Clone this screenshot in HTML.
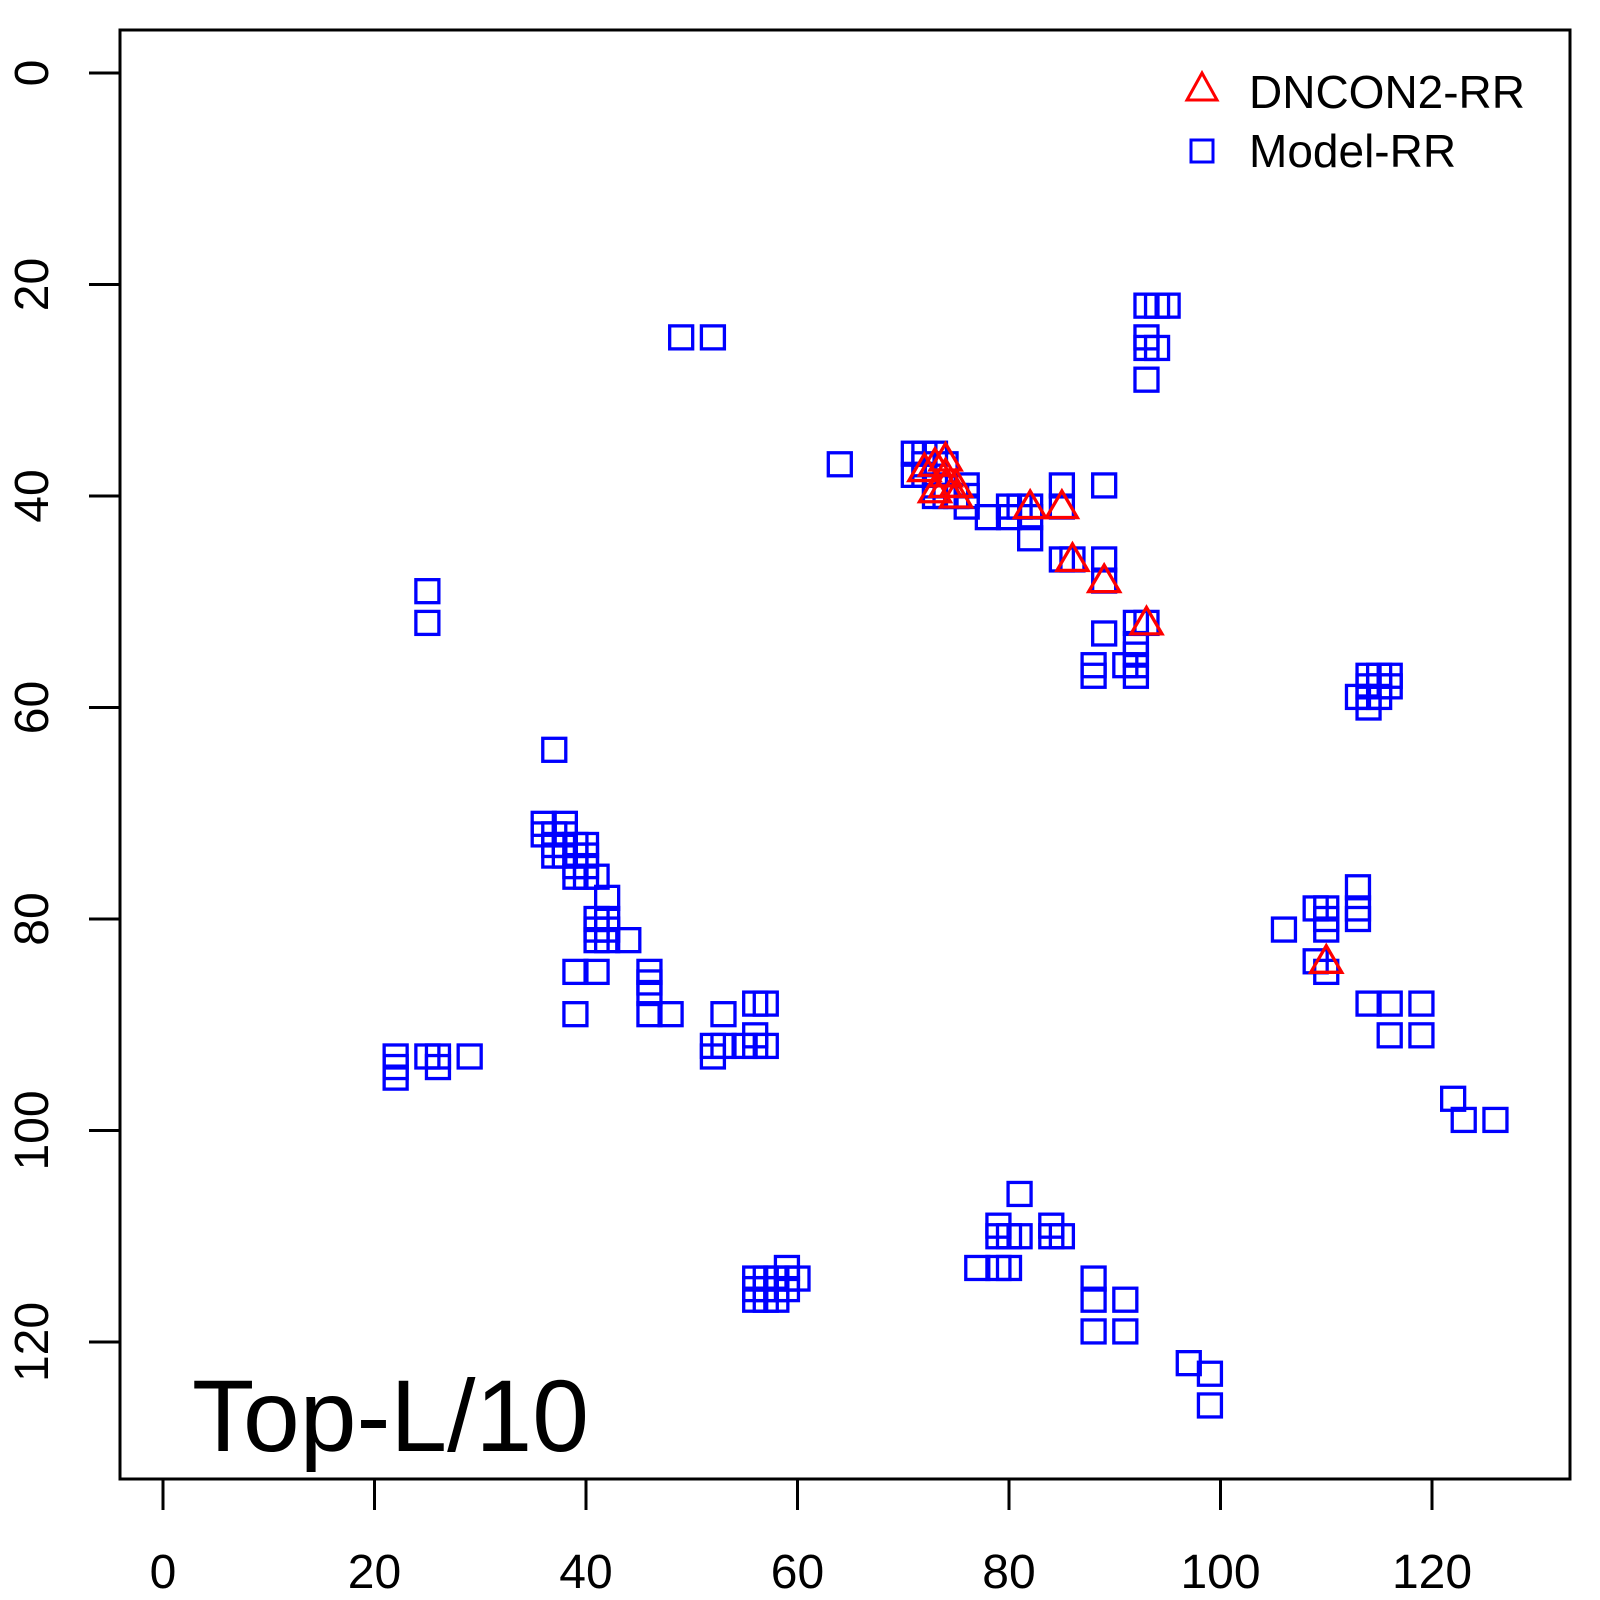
<!DOCTYPE html>
<html><head><style>body{margin:0;background:#fff}svg{display:block}text{font-family:"Liberation Sans",sans-serif}</style></head>
<body>
<svg id="s" width="1600" height="1600" viewBox="0 0 1600 1600" xmlns="http://www.w3.org/2000/svg">
<rect x="120" y="30" width="1450" height="1449" fill="none" stroke="#000" stroke-width="3"/>
<g stroke="#000" stroke-width="3">
<line x1="163" y1="1479" x2="1432" y2="1479"/>
<line x1="163" y1="1479" x2="163" y2="1510"/><line x1="374.5" y1="1479" x2="374.5" y2="1510"/><line x1="586" y1="1479" x2="586" y2="1510"/><line x1="797.5" y1="1479" x2="797.5" y2="1510"/><line x1="1009" y1="1479" x2="1009" y2="1510"/><line x1="1220.5" y1="1479" x2="1220.5" y2="1510"/><line x1="1432" y1="1479" x2="1432" y2="1510"/>
<line x1="120" y1="73" x2="120" y2="1342"/>
<line x1="89" y1="73" x2="120" y2="73"/><line x1="89" y1="284.5" x2="120" y2="284.5"/><line x1="89" y1="496" x2="120" y2="496"/><line x1="89" y1="707.5" x2="120" y2="707.5"/><line x1="89" y1="919" x2="120" y2="919"/><line x1="89" y1="1130.5" x2="120" y2="1130.5"/><line x1="89" y1="1342" x2="120" y2="1342"/>
</g>
<g font-size="48" text-anchor="middle" fill="#000">
<text x="163" y="1588">0</text><text x="374.5" y="1588">20</text><text x="586" y="1588">40</text><text x="797.5" y="1588">60</text><text x="1009" y="1588">80</text><text x="1220.5" y="1588">100</text><text x="1432" y="1588">120</text>
<text transform="translate(48,73) rotate(-90)">0</text>
<text transform="translate(48,284.5) rotate(-90)">20</text>
<text transform="translate(48,496) rotate(-90)">40</text>
<text transform="translate(48,707.5) rotate(-90)">60</text>
<text transform="translate(48,919) rotate(-90)">80</text>
<text transform="translate(48,1130.5) rotate(-90)">100</text>
<text transform="translate(48,1342) rotate(-90)">120</text>
</g>
<g id="pts"></g>
<polygon points="1202,73 1187,100 1217,100" fill="none" stroke="#f00" stroke-width="3"/>
<rect x="1191" y="140" width="22" height="22" fill="none" stroke="#00f" stroke-width="3"/>
<text x="1249" y="108" font-size="46">DNCON2-RR</text>
<text x="1249" y="167" font-size="46">Model-RR</text>
<text x="192" y="1451" font-size="102">Top-L/10</text>
</svg>
<script>
var sq=[[49,25],[52,25],[93,22],[94,22],[95,22],[93,25],[93,26],[94,26],[93,29],[64,37],[71,36],[71,38],[72,36],[72,37],[73,36],[72,38],[73,39],[74,37],[74,40],[73,40],[75,40],[76,39],[76,40],[76,41],[78,42],[80,41],[80,42],[81,41],[82,41],[82,42],[82,44],[85,39],[85,41],[89,39],[85,46],[86,46],[89,46],[89,48],[89,53],[92,52],[93,52],[92,54],[92,55],[91,56],[92,56],[92,57],[88,56],[88,57],
[114,57],[115,57],[116,57],[114,58],[115,58],[116,58],[113,59],[114,59],[115,59],[114,60],[25,49],[25,52],[37,64],
[36,71],[38,71],[36,72],[37,72],[38,72],[37,73],[38,73],[39,73],[40,73],[37,74],[38,74],[39,74],[40,74],[39,75],[40,75],[39,76],[40,76],[41,76],[42,78],[41,80],[42,80],[41,81],[42,81],[41,82],[42,82],[44,82],
[39,85],[41,85],[46,85],[46,86],[46,87],[39,89],[46,89],[48,89],[56,88],[57,88],[53,89],[56,91],[52,92],[53,92],[55,92],[56,92],[57,92],[52,93],
[22,93],[22,94],[22,95],[25,93],[26,93],[26,94],[29,93],[106,81],[109,79],[110,79],[110,80],[110,81],[113,77],[113,79],[113,80],[109,84],[110,85],
[114,88],[116,88],[119,88],[116,91],[119,91],[122,97],[123,99],[126,99],[81,106],[79,109],[84,109],[79,110],[80,110],[81,110],[84,110],[85,110],[77,113],[79,113],[80,113],
[56,114],[57,114],[58,114],[59,113],[59,114],[60,114],[56,115],[57,115],[58,115],[59,115],[56,116],[57,116],[58,116],[88,114],[88,116],[91,116],[88,119],[91,119],[97,122],[99,123],[99,126]];
var tr=[[72,37.5],[73,37],[74,36.5],[74,38],[73,39.5],[74,39],[75,39],[75,40],[82,41],[85,41],[86,46],[89,48],[93,52],[110,84]];
var h='';
function X(x){return 163+10.575*x}function Y(y){return 73+10.575*y}
sq.forEach(function(p){h+='<rect x="'+(X(p[0])-11.5)+'" y="'+(Y(p[1])-11.5)+'" width="23" height="23" fill="none" stroke="#00f" stroke-width="3.3"/>'});
tr.forEach(function(p){var x=X(p[0]),y=Y(p[1]);h+='<polygon points="'+x+','+(y-15.5)+' '+(x-15.5)+','+(y+11)+' '+(x+15.5)+','+(y+11)+'" fill="none" stroke="#f00" stroke-width="3.3"/>'});
document.getElementById('pts').innerHTML=h;
</script>
</body></html>
